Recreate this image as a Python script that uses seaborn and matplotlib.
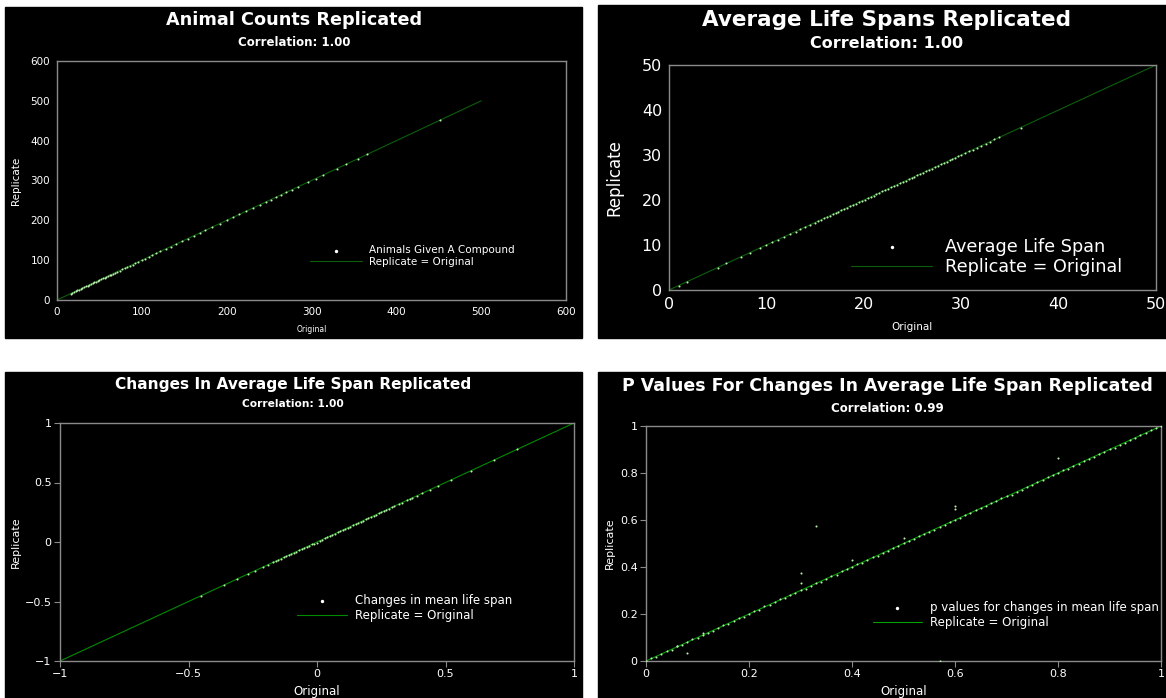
import pandas as pd
import seaborn as sns
import matplotlib.pyplot as plt
from matplotlib.patches import Rectangle

# Values
counts_original = [
    16, 18, 20, 22, 24, 26, 28, 30, 32, 34,
    36, 38, 40, 42, 44, 46, 48, 50, 52, 54,
    56, 58, 60, 62, 64, 66, 68, 71, 74, 77,
    80, 83, 86, 89, 92, 96, 100, 104, 108, 112,
    117, 122, 128, 134, 140, 147, 154, 161, 168, 175,
    183, 192, 200, 208, 215, 223, 231, 239, 246, 252,
    258, 264, 270, 277, 284, 296, 305, 313, 330, 341,
    355, 366, 451,
]
counts_replicate = [
    16, 18, 20, 22, 24, 26, 28, 30, 32, 34,
    36, 38, 40, 42, 44, 46, 48, 50, 52, 54,
    56, 58, 60, 62, 64, 66, 68, 71, 74, 77,
    80, 83, 86, 89, 92, 96, 100, 104, 108, 112,
    118, 122, 128, 134, 140, 147, 154, 161, 168, 175,
    183, 192, 201, 208, 215, 223, 231, 239, 246, 252,
    258, 264, 270, 277, 284, 296, 305, 313, 330, 341,
    355, 366, 451,
]

life_original = [
    1.0, 1.8, 5.0, 5.9, 7.4, 8.3, 9.3, 10.0, 10.6, 11.2,
    11.8, 12.4, 13.0, 13.5, 14.0, 14.5, 15.0, 15.3, 15.6, 15.9,
    16.2, 16.5, 16.8, 17.1, 17.4, 17.7, 18.0, 18.3, 18.6, 18.9,
    19.2, 19.5, 19.8, 20.1, 20.4, 20.7, 21.0, 21.3, 21.6, 21.9,
    22.2, 22.5, 22.8, 23.1, 23.4, 23.7, 24.0, 24.3, 24.6, 24.9,
    25.2, 25.5, 25.8, 26.1, 26.4, 26.7, 27.0, 27.3, 27.6, 27.9,
    28.2, 28.5, 28.8, 29.1, 29.4, 29.7, 30.0, 30.4, 30.8, 31.2,
    31.6, 32.0, 32.5, 33.0, 33.4, 33.9, 36.1,
]
life_replicate = [
    1.0, 1.8, 5.0, 5.9, 7.4, 8.3, 9.3, 10.0, 10.6, 11.2,
    11.8, 12.4, 13.0, 13.5, 14.0, 14.5, 15.0, 15.3, 15.6, 15.9,
    16.2, 16.5, 16.8, 17.1, 17.4, 17.7, 18.0, 18.3, 18.6, 18.9,
    19.2, 19.5, 19.8, 20.1, 20.4, 20.7, 21.0, 21.3, 21.6, 21.9,
    22.2, 22.5, 22.8, 23.1, 23.4, 23.7, 24.0, 24.3, 24.6, 24.9,
    25.2, 25.5, 25.8, 26.1, 26.4, 26.7, 27.0, 27.3, 27.6, 27.9,
    28.2, 28.5, 28.8, 29.1, 29.4, 29.7, 30.0, 30.4, 30.8, 31.2,
    31.6, 32.0, 32.5, 33.0, 33.5, 33.9, 36.1,
]

change_original = [
    -0.45, -0.36, -0.31, -0.27, -0.24, -0.21, -0.19, -0.17, -0.16, -0.15,
    -0.14, -0.13, -0.12, -0.11, -0.10, -0.09, -0.08, -0.07, -0.06, -0.05,
    -0.04, -0.03, -0.02, -0.01, 0.00, 0.01, 0.02, 0.03, 0.04, 0.05,
    0.06, 0.07, 0.08, 0.09, 0.10, 0.11, 0.12, 0.13, 0.14, 0.15,
    0.16, 0.17, 0.18, 0.19, 0.20, 0.21, 0.22, 0.23, 0.24, 0.25,
    0.26, 0.27, 0.28, 0.29, 0.30, 0.32, 0.33, 0.35, 0.36, 0.37,
    0.39, 0.41, 0.44, 0.47, 0.52, 0.60, 0.69, 0.78,
]
change_replicate = [
    -0.45, -0.36, -0.31, -0.27, -0.24, -0.21, -0.19, -0.17, -0.16, -0.15,
    -0.14, -0.13, -0.12, -0.11, -0.10, -0.09, -0.08, -0.07, -0.06, -0.05,
    -0.04, -0.03, -0.02, -0.015, -0.01, 0.005, 0.02, 0.03, 0.04, 0.05,
    0.06, 0.07, 0.08, 0.09, 0.10, 0.11, 0.12, 0.13, 0.14, 0.15,
    0.16, 0.17, 0.18, 0.19, 0.20, 0.21, 0.22, 0.23, 0.24, 0.25,
    0.26, 0.27, 0.28, 0.29, 0.30, 0.32, 0.33, 0.35, 0.36, 0.37,
    0.39, 0.41, 0.44, 0.47, 0.52, 0.60, 0.69, 0.78,
]

p_original = [
    0.00, 0.01, 0.02, 0.03, 0.04, 0.05, 0.06, 0.07, 0.08, 0.09,
    0.10, 0.11, 0.12, 0.13, 0.14, 0.15, 0.16, 0.17, 0.18, 0.19,
    0.20, 0.21, 0.22, 0.23, 0.24, 0.25, 0.26, 0.27, 0.28, 0.29,
    0.30, 0.31, 0.32, 0.33, 0.34, 0.35, 0.36, 0.37, 0.38, 0.39,
    0.40, 0.41, 0.42, 0.43, 0.44, 0.45, 0.46, 0.47, 0.48, 0.49,
    0.50, 0.51, 0.52, 0.53, 0.54, 0.55, 0.56, 0.57, 0.58, 0.59,
    0.60, 0.61, 0.62, 0.63, 0.64, 0.65, 0.66, 0.67, 0.68, 0.69,
    0.70, 0.71, 0.72, 0.73, 0.74, 0.75, 0.76, 0.77, 0.78, 0.79,
    0.80, 0.81, 0.82, 0.83, 0.84, 0.85, 0.86, 0.87, 0.88, 0.89,
    0.90, 0.91, 0.92, 0.93, 0.94, 0.95, 0.96, 0.97, 0.98, 0.99,
    1.00,
    0.06, 0.08, 0.11, 0.30, 0.30, 0.33, 0.40, 0.50, 0.57, 0.60, 0.60, 0.80,
]
p_replicate = [
    0.002, 0.012, 0.018, 0.031, 0.041, 0.048, 0.062, 0.069, 0.081, 0.092,
    0.098, 0.112, 0.121, 0.128, 0.141, 0.152, 0.158, 0.171, 0.182, 0.188,
    0.202, 0.211, 0.219, 0.232, 0.238, 0.251, 0.262, 0.268, 0.281, 0.289,
    0.302, 0.308, 0.321, 0.332, 0.338, 0.351, 0.362, 0.368, 0.381, 0.391,
    0.398, 0.412, 0.419, 0.431, 0.442, 0.448, 0.461, 0.469, 0.482, 0.488,
    0.502, 0.511, 0.518, 0.532, 0.539, 0.551, 0.558, 0.572, 0.579, 0.592,
    0.601, 0.608, 0.622, 0.629, 0.641, 0.652, 0.658, 0.671, 0.679, 0.692,
    0.702, 0.708, 0.721, 0.729, 0.742, 0.748, 0.761, 0.769, 0.782, 0.791,
    0.798, 0.812, 0.819, 0.831, 0.839, 0.852, 0.861, 0.868, 0.881, 0.889,
    0.902, 0.908, 0.921, 0.929, 0.941, 0.948, 0.962, 0.969, 0.981, 0.991,
    0.998,
    0.065, 0.035, 0.120, 0.375, 0.330, 0.575, 0.430, 0.525, 0.000, 0.660, 0.645, 0.865,
]

# identity line end points
counts_line = [0, 500]
life_line = [0, 50]
change_line = [-1, 1]
p_line = [0, 1]

titles = [
    "Animal Counts Replicated",
    "Average Life Spans Replicated",
    "Changes In Average Life Span Replicated",
    "P Values For Changes In Average Life Span Replicated",
]
subtitles = ["Correlation: 1.00", "Correlation: 1.00", "Correlation: 1.00", "Correlation: 0.99"]
point_labels = [
    "Animals Given A Compound",
    "Average Life Span",
    "Changes in mean life span",
    "p values for changes in mean life span",
]

counts_ticks = [0, 100, 200, 300, 400, 500, 600]
life_ticks = [0, 10, 20, 30, 40, 50]
change_ticks = [-1, -0.5, 0, 0.5, 1]
change_ticklabels = ["\u22121", "\u22120.5", "0", "0.5", "1"]
p_ticks = [0, 0.2, 0.4, 0.6, 0.8, 1]
p_ticklabels = ["0", "0.2", "0.4", "0.6", "0.8", "1"]

W, H = 1166, 698


def px_rect(left, top, right, bottom):
    return [left / W, 1 - bottom / H, (right - left) / W, (bottom - top) / H]


sns.set_style("ticks")
plt.rcParams["font.family"] = ["DejaVu Sans"]

fig = plt.figure(figsize=(W / 100, H / 100), dpi=100, facecolor="white")

# black panel backgrounds
panels = [(5, 7, 582, 338), (598, 5, 1166, 338), (5, 372, 582, 698), (598, 372, 1166, 698)]
for l, t, r, b in panels:
    fig.patches.append(Rectangle((l / W, 1 - b / H), (r - l) / W, (b - t) / H,
                                 transform=fig.transFigure, color="black", zorder=-1))

panel_cfg = [
    dict(rect=(57, 61, 566, 300), x=counts_original, y=counts_replicate, line=counts_line,
         ticks=counts_ticks, labels=[str(t) for t in counts_ticks], lim=(0, 600),
         title_xy=(294, 20), sub_xy=(294, 43), tfs=12.7, sfs=8.5, tick_fs=7.5,
         ylab_fs=7.5, xlab_fs=5.5, leg_fs=7.5, ylab_x=-0.071, xlab_y=-0.105,
         leg_anchor=(0.497, 0.184), hl=5.0, tick_len=0, lc="#0b5f0b"),
    dict(rect=(669, 65, 1156, 290), x=life_original, y=life_replicate, line=life_line,
         ticks=life_ticks, labels=[str(t) for t in life_ticks], lim=(0, 50),
         title_xy=(887, 20), sub_xy=(887, 43), tfs=15.5, sfs=11.5, tick_fs=11.5,
         ylab_fs=12, xlab_fs=7.5, leg_fs=12.7, ylab_x=-0.094, xlab_y=-0.142,
         leg_anchor=(0.374, 0.147), hl=4.6, tick_len=0, lc="#0b5f0b"),
    dict(rect=(60, 423, 574, 661), x=change_original, y=change_replicate, line=change_line,
         ticks=change_ticks, labels=change_ticklabels, lim=(-1, 1),
         title_xy=(293, 385), sub_xy=(293, 404), tfs=11.1, sfs=7.7, tick_fs=8,
         ylab_fs=8, xlab_fs=8.5, leg_fs=8.5, ylab_x=-0.076, xlab_y=-0.10,
         leg_anchor=(0.461, 0.223), hl=4.2, tick_len=4, lc="#008a00"),
    dict(rect=(646, 426, 1161, 661), x=p_original, y=p_replicate, line=p_line,
         ticks=p_ticks, labels=p_ticklabels, lim=(0, 1),
         title_xy=(887, 386), sub_xy=(887, 408), tfs=12.5, sfs=8.5, tick_fs=8,
         ylab_fs=8, xlab_fs=8.5, leg_fs=8.5, ylab_x=-0.06, xlab_y=-0.102,
         leg_anchor=(0.441, 0.196), hl=4.1, tick_len=4, lc="#00a000"),
]

for i, cfg in enumerate(panel_cfg):
    ax = fig.add_axes(px_rect(*cfg["rect"]))
    ax.set_facecolor("black")

    data = pd.DataFrame({"Original": cfg["x"], "Replicate": cfg["y"]})
    sns.lineplot(x=cfg["line"], y=cfg["line"], color=cfg["lc"], linewidth=0.8,
                 label="Replicate = Original", ax=ax, zorder=2)
    sns.scatterplot(data=data, x="Original", y="Replicate", color="#b8efac", s=2.2,
                    linewidth=0, label=point_labels[i], ax=ax, zorder=3)

    ax.set_xlim(cfg["lim"])
    ax.set_ylim(cfg["lim"])
    ax.set_xticks(cfg["ticks"], cfg["labels"])
    ax.set_yticks(cfg["ticks"], cfg["labels"])
    ax.tick_params(colors="#8a8a8a", labelcolor="white", labelsize=cfg["tick_fs"],
                   length=cfg["tick_len"], width=0.8, pad=2 if cfg["tick_len"] else 5)
    for sp in ax.spines.values():
        sp.set_visible(True)
        sp.set_color("#8a8a8a")
        sp.set_linewidth(1.0)

    ax.set_xlabel("Original", color="white", fontsize=cfg["xlab_fs"])
    ax.set_ylabel("Replicate", color="white", fontsize=cfg["ylab_fs"])
    ax.xaxis.set_label_coords(0.5, cfg["xlab_y"])
    ax.yaxis.set_label_coords(cfg["ylab_x"], 0.5)

    handles, labels = ax.get_legend_handles_labels()
    leg = ax.legend(handles[::-1], labels[::-1], loc="center left",
                    bbox_to_anchor=cfg["leg_anchor"], frameon=False,
                    fontsize=cfg["leg_fs"], labelcolor="white", borderpad=0,
                    handlelength=cfg["hl"], handletextpad=0.7, labelspacing=0.15,
                    borderaxespad=0)
    pts = leg.legend_handles[0]
    pts.set_facecolor("white")
    pts.set_edgecolor("white")
    pts.set_sizes([6])

    fig.text(cfg["title_xy"][0] / W, 1 - cfg["title_xy"][1] / H, titles[i],
             color="white", fontsize=cfg["tfs"], fontweight="bold", ha="center", va="center")
    fig.text(cfg["sub_xy"][0] / W, 1 - cfg["sub_xy"][1] / H, subtitles[i],
             color="white", fontsize=cfg["sfs"], fontweight="bold", ha="center", va="center")

fig.savefig("out.png", dpi=100, facecolor="white")
